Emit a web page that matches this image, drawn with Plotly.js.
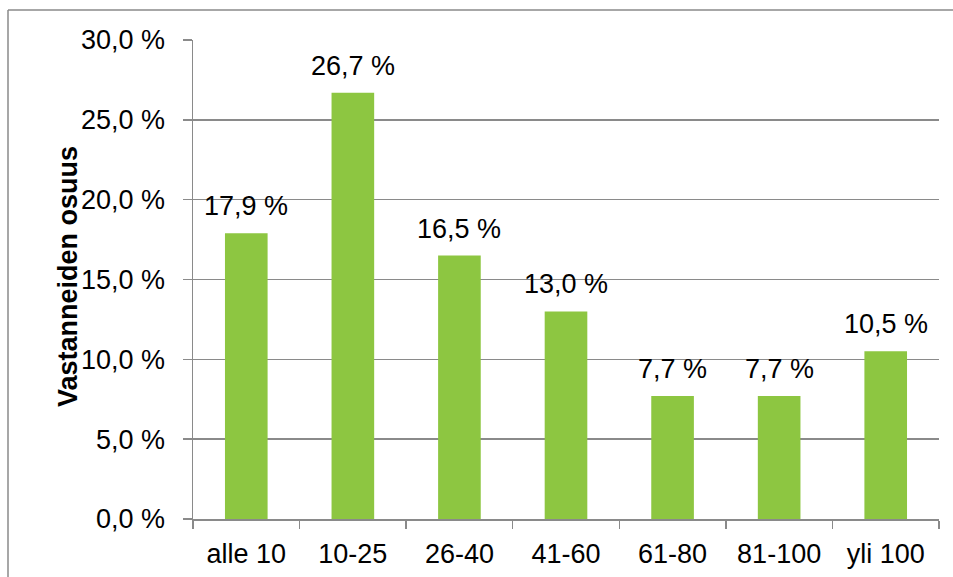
<!DOCTYPE html>
<html>
<head>
<meta charset="utf-8">
<script src="https://cdn.plot.ly/plotly-3.0.1.min.js"></script>
<style>
  html, body { margin: 0; padding: 0; background: #ffffff; }
  #chart { width: 953px; height: 577px; }
</style>
</head>
<body>
<div id="chart"></div>
<script>
// Respondents by size class (share of respondents, %)
const categories = ['alle 10', '10-25', '26-40', '41-60', '61-80', '81-100', 'yli 100'];
const shares = [17.9, 26.7, 16.5, 13.0, 7.7, 7.7, 10.5];
const yTickValues = [0, 5, 10, 15, 20, 25, 30];
const yTickLabels = ['0,0 %', '5,0 %', '10,0 %', '15,0 %', '20,0 %', '25,0 %', '30,0 %'];
const yAxisTitle = 'Vastanneiden osuus';

const fmt = v => v.toFixed(1).replace('.', ',') + ' %';

const W = 953, H = 577;
const margin = { l: 193, r: 14, t: 40, b: 58 };
const plotW = W - margin.l - margin.r;
const plotH = H - margin.t - margin.b;
const px2x = px => (px - margin.l) / plotW;
const px2y = py => (H - margin.b - py) / plotH;

const gridColor = '#8a8a8a';
const tickFont = { family: 'Liberation Sans, Arial, sans-serif', size: 27, color: '#000000' };

const trace = {
  type: 'bar',
  x: categories,
  y: shares,
  marker: { color: '#8dc641' },
  width: 0.4,
  hoverinfo: 'skip'
};

const labels = categories.map((c, i) => ({
  x: c,
  y: shares[i],
  xref: 'x',
  yref: 'y',
  text: fmt(shares[i]),
  showarrow: false,
  yanchor: 'bottom',
  yshift: 10,
  font: tickFont
}));

labels.push({
  xref: 'paper',
  yref: 'paper',
  x: px2x(68),
  y: px2y(277),
  text: '<b>' + yAxisTitle + '</b>',
  textangle: -90,
  showarrow: false,
  xanchor: 'center',
  yanchor: 'middle',
  font: { family: 'Liberation Sans, Arial, sans-serif', size: 27, color: '#000000' }
});

const layout = {
  width: W,
  height: H,
  margin: margin,
  paper_bgcolor: '#ffffff',
  plot_bgcolor: '#ffffff',
  showlegend: false,
  bargap: 0.6,
  font: tickFont,
  xaxis: {
    type: 'category',
    tickson: 'boundaries',
    ticks: 'outside',
    ticklen: 8,
    tickwidth: 1.5,
    tickcolor: gridColor,
    showline: true,
    linecolor: gridColor,
    linewidth: 1.5,
    showgrid: false,
    ticklabelstandoff: 10,
    tickfont: tickFont,
    fixedrange: true
  },
  yaxis: {
    range: [0, 30],
    tickvals: yTickValues,
    ticktext: yTickLabels,
    ticks: 'outside',
    ticklen: 9,
    tickwidth: 1.5,
    tickcolor: gridColor,
    showline: true,
    linecolor: gridColor,
    linewidth: 1.5,
    showgrid: true,
    gridcolor: gridColor,
    gridwidth: 1.5,
    zeroline: false,
    ticklabelstandoff: 12,
    tickfont: tickFont,
    fixedrange: true
  },
  annotations: labels,
  shapes: [
    // outer chart frame (top and left edges show inside the page)
    {
      type: 'line', xref: 'paper', yref: 'paper',
      x0: px2x(8), x1: px2x(960), y0: px2y(10), y1: px2y(10),
      line: { color: '#8a8a8a', width: 1.5 }
    },
    {
      type: 'line', xref: 'paper', yref: 'paper',
      x0: px2x(8), x1: px2x(8), y0: px2y(10), y1: px2y(590),
      line: { color: '#8a8a8a', width: 1.5 }
    }
  ]
};

Plotly.newPlot('chart', [trace], layout, { displayModeBar: false, staticPlot: true });
</script>
</body>
</html>
